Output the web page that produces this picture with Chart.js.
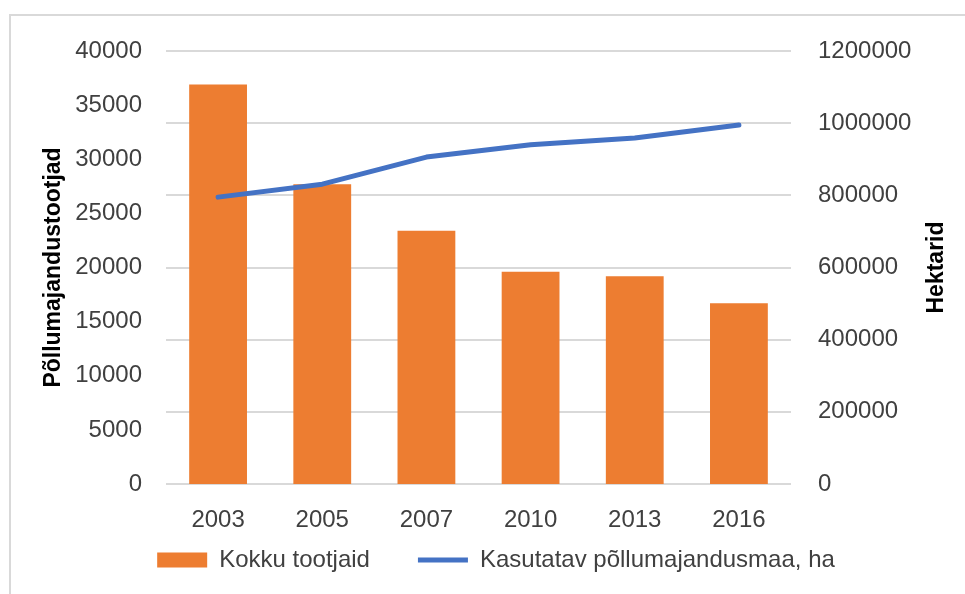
<!DOCTYPE html>
<html>
<head>
<meta charset="utf-8">
<script src="https://cdn.jsdelivr.net/npm/chart.js@4/dist/chart.umd.min.js"></script>
<style>
    body { margin: 0; overflow: hidden; background: #fff; }
    #frame { position: absolute; left: 9px; top: 14px; width: 1000px; height: 700px; border: 2px solid #d9d9d9; }
    #chart { position: absolute; left: 0; top: 0; }
</style>
</head>
<body>
<div id="frame"></div>
<canvas id="chart" width="965" height="594"></canvas>
<script>
const years = ['2003', '2005', '2007', '2010', '2013', '2016']
const producers = [36900, 27700, 23400, 19600, 19200, 16700]
const landHa = [795000, 831000, 906000, 940000, 959000, 995000]
const producersLabel = 'Kokku tootjaid'
const landLabel = 'Kasutatav põllumajandusmaa, ha'
const leftTitle = 'Põllumajandustootjad'
const rightTitle = 'Hektarid'

const tickColor = '#404040'
const font = 'Liberation Sans'
const plain = v => String(v) // no thousands separators

const rightTitlePlugin = {
    id: 'rightTitle',
    afterLayout(chart) {
        // legend padding is both the gap between items and the gap above them,
        // so pull the legend up under the axis labels
        const lg = chart.legend
        const h = lg.bottom - lg.top
        lg.top = chart.chartArea.bottom + 16
        lg.bottom = lg.top + h
    },
    // Chart.js turns the right title top-to-bottom, the original reads bottom-to-top
    afterDraw(chart) {
        const { ctx, chartArea } = chart
        const s = chart.scales.y1
        ctx.save()
        ctx.translate(s.right - 28, (chartArea.top + chartArea.bottom) / 2)
        ctx.rotate(-Math.PI / 2)
        ctx.font = 'bold 23px "' + font + '"'
        ctx.fillStyle = '#000'
        ctx.textAlign = 'center'
        ctx.textBaseline = 'middle'
        ctx.fillText(rightTitle, 0, 0)
        ctx.restore()
    }
}

new Chart(document.getElementById('chart'), {
    type: 'bar',
    data: {
        labels: years,
        datasets: [{
            label: producersLabel,
            data: producers,
            backgroundColor: '#ED7D31',
            borderWidth: 0,
            yAxisID: 'y',
            order: 1,
            pointStyle: 'rect',
            categoryPercentage: 1,
            barPercentage: 0.555
        }, {
            type: 'line',
            label: landLabel,
            data: landHa,
            borderColor: '#4472C4',
            backgroundColor: '#4472C4',
            borderWidth: 5,
            borderCapStyle: 'round',
            borderJoinStyle: 'round',
            pointRadius: 0,
            pointStyle: 'line',
            tension: 0,
            yAxisID: 'y1',
            order: 0
        }]
    },
    options: {
        responsive: false,
        animation: false,
        layout: { padding: { top: 51, bottom: -23, left: 27, right: 0 } },
        plugins: {
            tooltip: { enabled: false },
            legend: {
                position: 'bottom',
                labels: {
                    usePointStyle: true,
                    pointStyleWidth: 50,
                    boxHeight: 15,
                    padding: 48,
                    color: tickColor,
                    font: { family: font, size: 24 },
                    sort: (a, b) => a.datasetIndex - b.datasetIndex
                }
            }
        },
        scales: {
            x: {
                grid: { display: false, drawTicks: false },
                border: { display: false },
                ticks: { color: tickColor, font: { family: font, size: 24 }, padding: 22 },
                afterFit(s) { s.height = 51 }
            },
            y: {
                position: 'left',
                min: 0,
                max: 40000,
                grid: { display: false, drawTicks: false },
                border: { display: false },
                ticks: { stepSize: 5000, padding: 24, color: tickColor, font: { family: font, size: 24 }, callback: plain },
                title: {
                    display: true,
                    text: leftTitle,
                    color: '#000',
                    font: { family: font, size: 23, weight: 'bold' },
                    padding: { top: 13, bottom: 0 }
                },
                afterFit(s) { s.width = 139 }
            },
            y1: {
                position: 'right',
                min: 0,
                max: 1200000,
                grid: { color: '#d9d9d9', lineWidth: 2, drawTicks: false },
                border: { display: false },
                ticks: { stepSize: 200000, padding: 27, color: tickColor, font: { family: font, size: 24 }, callback: plain },
                afterFit(s) { s.width = 174 }
            }
        }
    },
    plugins: [rightTitlePlugin]
})
</script>
</body>
</html>
